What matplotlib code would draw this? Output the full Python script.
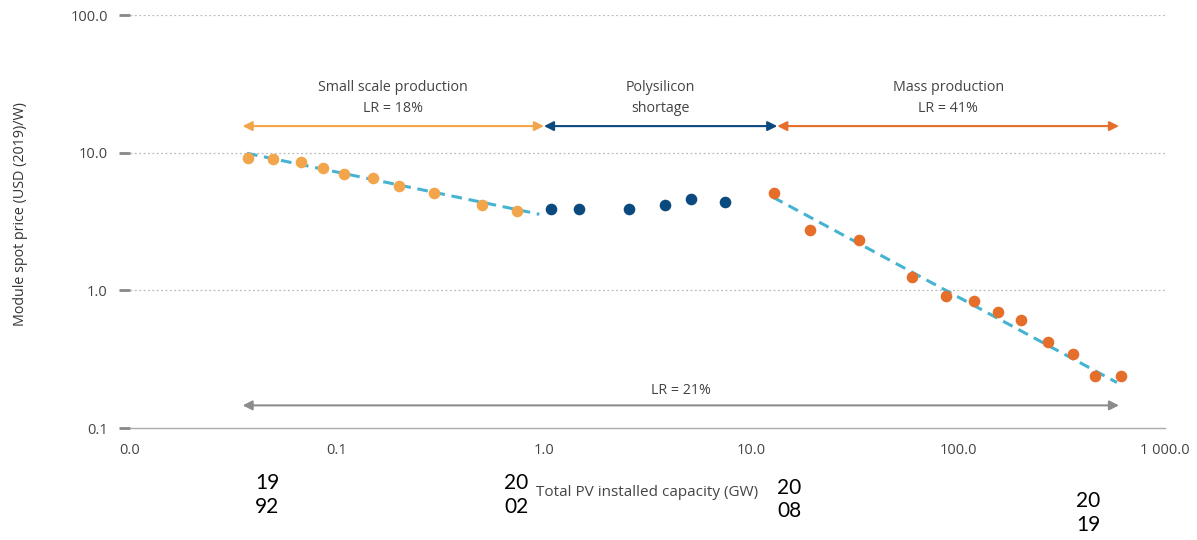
import numpy as np
import matplotlib
matplotlib.use("Agg")
import matplotlib.pyplot as plt
from matplotlib.ticker import FixedLocator, FixedFormatter

plt.rcParams["font.family"] = ["Open Sans", "DejaVu Sans"]

# --- data (GW, USD(2019)/W) ---
small_x = [0.037, 0.049, 0.067, 0.086, 0.108, 0.149, 0.20, 0.294, 0.50, 0.74]
small_y = [9.1, 9.0, 8.5, 7.7, 7.0, 6.6, 5.7, 5.1, 4.15, 3.75]

short_x = [1.08, 1.48, 2.58, 3.84, 5.13, 7.49]
short_y = [3.9, 3.9, 3.9, 4.15, 4.6, 4.37]

mass_x = [12.9, 19.3, 33.3, 60, 87.5, 119, 156, 201, 272, 360, 459, 613]
mass_y = [5.08, 2.73, 2.31, 1.24, 0.905, 0.83, 0.70, 0.605, 0.42, 0.343, 0.237, 0.237]

# learning-rate trend lines (end points)
trend1_x = [0.0367, 0.95]
trend1_y = [9.9, 3.57]
trend2_x = [12.8, 586]
trend2_y = [4.74, 0.214]

# phase arrows
phase_names = ["Small scale production\nLR = 18%", "Polysilicon\nshortage",
               "Mass production\nLR = 41%"]
phase_start = [0.035, 1.0, 13.4]
phase_end = [1.0, 13.4, 600]
phase_level = 15.6
overall_start, overall_end, overall_level = 0.035, 600, 0.146
overall_label = "LR = 21%"

years = ["19\n92", "20\n02", "20\n08", "20\n19"]
year_x = [0.046, 0.733, 15.3, 425]
year_y = [-0.162, -0.162, -0.174, -0.206]

xticks = [0.01, 0.1, 1, 10, 100, 1000]
xtick_labels = ["0.0", "0.1", "1.0", "10.0", "100.0", "1 000.0"]
yticks = [0.1, 1, 10, 100]
ytick_labels = ["0.1", "1.0", "10.0", "100.0"]

c_light = "#F2A54A"
c_blue = "#0B4A7E"
c_dark = "#E46E2A"
c_trend = "#45B3D1"
c_gray = "#8C8C8C"
c_text = "#444444"

fig = plt.figure(figsize=(11.97, 5.4), dpi=100)
ax = fig.add_axes([0.1086, 0.2074, 0.8646, 0.7648])
ax.set_xscale("log")
ax.set_yscale("log")
ax.set_xlim(0.01, 1000)
ax.set_ylim(0.1, 100)

# grid
for yv in [1, 10, 100]:
    ax.axhline(yv, color="#BBBBBB", lw=0.9, ls=(0, (1.5, 2)), zorder=0)

# trend lines
ax.plot(trend1_x, trend1_y, color=c_trend, lw=2.2, ls=(0, (3.5, 2.2)), zorder=2)
ax.plot(trend2_x, trend2_y, color=c_trend, lw=2.2, ls=(0, (3.5, 2.2)), zorder=2)

# points
ax.scatter(small_x, small_y, s=70, color=c_light, zorder=3, linewidths=0)
ax.scatter(short_x, short_y, s=70, color=c_blue, zorder=3, linewidths=0)
ax.scatter(mass_x, mass_y, s=70, color=c_dark, zorder=3, linewidths=0)

# phase arrows + labels
for name, x0, x1, col in zip(phase_names, phase_start, phase_end,
                             [c_light, c_blue, c_dark]):
    ax.annotate("", xy=(x1, phase_level), xytext=(x0, phase_level),
                arrowprops=dict(arrowstyle="<|-|>", color=col, lw=1.5,
                                mutation_scale=14, shrinkA=0, shrinkB=0))
    xm = np.sqrt(x0 * x1)
    ax.text(xm, 25, name, ha="center", va="center", fontsize=10.3,
            color=c_text, linespacing=1.6)

ax.annotate("", xy=(overall_end, overall_level), xytext=(overall_start, overall_level),
            arrowprops=dict(arrowstyle="<|-|>", color=c_gray, lw=1.5,
                            mutation_scale=14, shrinkA=0, shrinkB=0))
ax.text(np.sqrt(overall_start * overall_end), 0.188, overall_label,
        ha="center", va="center", fontsize=10.3, color=c_text)

# axes styling
for s in ["top", "right", "left"]:
    ax.spines[s].set_visible(False)
ax.spines["bottom"].set_color("#AAAAAA")
ax.spines["bottom"].set_linewidth(1.0)

ax.xaxis.set_major_locator(FixedLocator(xticks))
ax.xaxis.set_major_formatter(FixedFormatter(xtick_labels))
ax.xaxis.set_minor_locator(FixedLocator([0.01]))
ax.tick_params(axis="x", which="major", length=0, pad=11, labelsize=10.5,
               labelcolor=c_text)
ax.tick_params(axis="x", which="minor", length=6, color="#AAAAAA", width=1.0)

ax.yaxis.set_major_locator(FixedLocator(yticks))
ax.yaxis.set_major_formatter(FixedFormatter(ytick_labels))
ax.yaxis.set_minor_locator(FixedLocator([]))
ax.tick_params(axis="y", which="major", length=8, width=2, color="#888888",
               pad=8, labelsize=10.5, labelcolor=c_text)

ax.set_ylabel("Module spot price (USD (2019)/W)", fontsize=10.3, color="#333333")
ax.yaxis.set_label_coords(-0.099, 0.518)
ax.text(0.5, -0.157, "Total PV installed capacity (GW)", transform=ax.transAxes,
        ha="center", va="center", fontsize=11, color=c_text, clip_on=False)

# year markers under the axis
for lab, xv, yv in zip(years, year_x, year_y):
    ax.text(xv, yv, lab, transform=ax.get_xaxis_transform(), ha="center",
            va="center", fontsize=15, color="black", family=["Lato", "DejaVu Sans"],
            linespacing=1.2, clip_on=False)

fig.savefig("out.png", dpi=100)
